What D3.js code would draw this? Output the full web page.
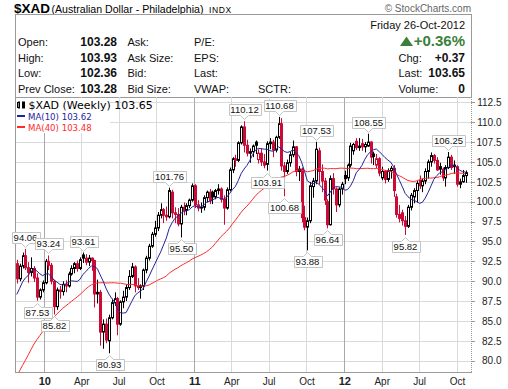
<!DOCTYPE html>
<html>
<head>
<meta charset="utf-8">
<script src="https://cdn.jsdelivr.net/npm/d3@7"></script>
<style>
  body { margin: 0; background: #fff; }
  svg { display: block; font-family: "Liberation Sans", Arial, sans-serif; }
</style>
</head>
<body>
<div id="chart"></div>
<script>
// weekly closes before the first bar, only used to seed the moving averages
const priorCloses = [63.7, 66.0, 66.2, 63.7, 64.0, 63.7, 65.8, 69.3, 69.0, 71.8, 71.7, 71.4, 72.6,
  73.1, 75.6, 74.6, 78.2, 79.8, 79.8, 81.2, 79.9, 80.6, 79.3, 78.4, 81.0, 82.9, 83.6, 84.0, 83.5,
  83.7, 84.3, 85.1, 86.6, 87.8, 86.6, 87.4, 90.6, 92.3, 92.3];

// weekly bars, week of Mon 26-Oct-2009 .. week of Mon 22-Oct-2012
const opens = [92.2, 90.3, 91.9, 93.2, 91.7, 91.1, 91.6, 90.4, 88.0, 88.9, 89.8, 92.5, 92.0, 90.0, 86.8,
  88.9, 88.7, 89.6, 89.4, 90.9, 91.6, 92.2, 91.6, 93.3, 92.9, 92.4, 92.9, 92.6, 88.4, 88.6, 83.6, 84.6,
  82.5, 85.4, 87.3, 87.8, 84.6, 87.4, 88.0, 89.2, 90.6, 91.8, 89.4, 89.2, 89.4, 91.4, 92.9, 94.4, 95.9,
  96.7, 98.3, 99.0, 98.3, 98.1, 101.2, 98.6, 98.4, 97.2, 99.3, 98.9, 99.5, 100.2, 102.0, 99.6, 99.2,
  99.3, 100.5, 101.2, 101.2, 100.6, 101.4, 101.6, 100.3, 99.2, 101.5, 104.0, 105.4, 105.2, 107.4, 109.4,
  107.1, 106.1, 106.3, 107.5, 105.3, 106.1, 105.0, 104.7, 107.3, 107.5, 106.5, 108.1, 109.8, 104.5,
  103.8, 104.9, 105.9, 106.9, 103.8, 104.1, 98.0, 96.8, 97.6, 101.9, 102.6, 106.4, 103.8, 102.6, 100.0,
  97.1, 102.9, 101.6, 99.6, 101.6, 103.3, 103.0, 104.6, 106.4, 107.6, 106.8, 107.3, 106.9, 107.0, 107.5,
  106.0, 104.6, 105.4, 103.0, 103.8, 102.8, 103.9, 104.2, 100.6, 98.4, 98.6, 97.6, 96.9, 99.3, 100.6,
  101.4, 102.7, 102.0, 102.6, 103.8, 105.0, 105.8, 105.2, 104.4, 104.1, 103.0, 104.3, 105.6, 104.6,
  104.4, 102.2, 102.5, 103.28];
const highs = [92.7, 92.2, 93.6, 94.06, 92.4, 93.0, 91.9, 91.0, 89.1, 90.1, 92.8, 93.24, 92.3, 90.2, 89.2,
  89.4, 90.0, 90.1, 91.2, 92.0, 92.4, 92.6, 93.0, 93.61, 93.4, 93.3, 93.0, 92.7, 90.2, 88.9, 85.2, 85.3,
  85.8, 87.8, 88.6, 88.0, 87.6, 88.8, 89.6, 91.4, 92.3, 92.0, 90.4, 89.6, 91.6, 93.2, 94.7, 96.2, 97.6,
  98.7, 99.8, 99.2, 99.4, 101.76, 101.5, 99.3, 99.2, 99.6, 99.9, 99.8, 100.4, 102.3, 102.2, 100.2, 99.9,
  100.8, 101.4, 101.6, 101.4, 101.6, 102.2, 101.8, 100.8, 101.8, 104.3, 105.6, 105.9, 107.6, 109.6,
  110.12, 107.8, 106.7, 107.2, 107.7, 106.6, 106.7, 106.0, 107.6, 108.0, 107.8, 108.3, 110.68, 110.5,
  105.0, 105.3, 106.3, 107.7, 107.0, 104.5, 104.3, 99.5, 98.0, 102.5, 103.0, 107.53, 106.8, 104.7, 103.0,
  100.3, 103.3, 103.6, 101.8, 101.8, 102.5, 103.9, 104.8, 107.4, 107.4, 108.0, 108.0, 107.9, 107.5,
  108.55, 107.6, 106.3, 106.0, 105.6, 104.4, 104.0, 104.2, 104.5, 104.6, 101.0, 99.6, 99.0, 98.2, 99.6,
  101.1, 101.7, 102.6, 103.3, 102.9, 104.2, 105.3, 106.2, 106.0, 105.6, 104.9, 104.3, 104.6, 106.25,
  105.9, 105.2, 104.6, 102.9, 104.0, 103.93];
const lows = [89.7, 90.0, 91.6, 91.4, 89.8, 90.6, 89.9, 87.53, 87.7, 88.6, 89.6, 91.4, 89.6, 85.82, 86.4,
  87.8, 88.2, 88.6, 89.2, 90.7, 91.0, 91.2, 91.4, 92.3, 92.0, 91.9, 91.3, 86.7, 87.2, 81.9, 81.5, 82.2,
  80.93, 85.2, 86.9, 83.2, 84.4, 86.6, 87.5, 88.9, 90.4, 88.6, 88.9, 87.8, 88.9, 91.0, 92.6, 94.2, 95.6,
  96.3, 97.9, 97.3, 97.6, 97.9, 97.9, 97.3, 96.9, 95.5, 98.3, 98.3, 99.2, 100.0, 99.2, 98.8, 98.6, 98.9,
  99.9, 99.7, 99.7, 100.3, 100.9, 99.9, 97.1, 99.0, 101.3, 103.6, 104.4, 105.0, 107.2, 106.2, 105.7,
  104.9, 105.6, 106.0, 104.8, 104.5, 104.2, 103.91, 106.6, 105.6, 106.2, 107.9, 103.9, 100.68, 103.5,
  104.4, 105.6, 103.2, 102.6, 97.4, 96.4, 93.88, 97.3, 100.5, 102.2, 102.2, 101.2, 99.6, 96.64, 97.0,
  100.9, 98.7, 99.3, 100.9, 102.2, 102.6, 104.3, 105.9, 106.5, 106.4, 106.4, 106.2, 106.9, 104.8, 104.6,
  104.2, 103.2, 102.7, 102.3, 102.5, 102.9, 100.6, 98.0, 97.4, 97.0, 95.82, 96.7, 98.9, 99.8, 99.9,
  101.6, 101.2, 102.2, 102.9, 104.4, 104.8, 103.9, 103.4, 102.6, 101.9, 104.1, 104.0, 103.5, 101.9,
  101.7, 102.4, 102.36];
const closes = [90.3, 91.9, 93.2, 91.7, 91.1, 91.6, 90.4, 88.0, 88.9, 89.8, 92.5, 92.0, 90.0, 86.8, 88.9,
  88.7, 89.6, 89.4, 90.9, 91.6, 92.2, 91.6, 92.7, 92.9, 92.4, 92.9, 92.6, 88.4, 88.6, 83.6, 84.6, 82.6,
  85.4, 87.3, 87.8, 84.6, 87.4, 88.0, 89.2, 90.6, 91.8, 89.4, 89.2, 89.4, 91.4, 92.9, 94.4, 95.9, 96.7,
  98.3, 99.0, 98.3, 98.1, 101.4, 98.6, 98.4, 97.2, 99.3, 98.9, 99.5, 100.2, 102.0, 99.6, 99.2, 99.3,
  100.5, 101.2, 100.1, 100.6, 101.4, 101.6, 100.3, 99.2, 101.5, 104.0, 105.4, 105.2, 107.4, 109.4, 107.1,
  106.1, 106.3, 107.0, 107.1, 106.1, 105.0, 104.6, 107.3, 107.5, 106.5, 108.1, 109.8, 104.5, 103.8,
  104.9, 105.9, 106.9, 103.8, 104.1, 98.0, 96.8, 97.6, 102.0, 102.6, 106.6, 103.8, 102.6, 100.2, 97.1,
  102.9, 101.6, 99.6, 101.6, 102.2, 102.9, 104.6, 107.0, 107.2, 106.8, 107.0, 106.9, 107.2, 107.5, 105.6,
  105.7, 105.4, 103.6, 103.8, 102.8, 103.9, 104.2, 101.4, 98.4, 97.9, 97.6, 96.9, 99.3, 100.8, 101.4,
  102.3, 102.0, 102.6, 103.8, 105.0, 105.8, 105.2, 104.0, 104.1, 103.0, 104.3, 105.6, 104.3, 104.4,
  102.2, 102.5, 103.28, 103.65];

const highLabels = [94.06, 93.24, 93.61, 101.76, 110.12, 110.68, 107.53, 108.55, 106.25];
const lowLabels = [87.53, 85.82, 80.93, 95.50, 103.91, 100.68, 93.88, 96.64, 95.82];

const yTicks = [80.0, 82.5, 85.0, 87.5, 90.0, 92.5, 95.0, 97.5, 100.0, 102.5, 105.0, 107.5, 110.0, 112.5];

const legendRows = ["$XAD (Weekly) 103.65", "MA(10) 103.62", "MA(40) 103.48"];
const quoteLeft = [
  ["Open:", "103.28", "Ask:", "P/E:", ""],
  ["High:", "103.93", "Ask Size:", "EPS:", ""],
  ["Low:", "102.36", "Bid:", "Last:", ""],
  ["Prev Close:", "103.28", "Bid Size:", "VWAP:", "SCTR:"]
];
const quoteRight = [["Chg:", "+0.37"], ["Last:", "103.65"], ["Volume:", "0"]];

const W = 508, H = 389;
const plot = { left: 15, right: 471, top: 97, bottom: 372 };

const svg = d3.select("#chart").append("svg")
  .attr("width", W).attr("height", H);

// time and price scales
const x = d3.scaleUtc()
  .domain([new Date(Date.UTC(2009, 9, 21, 17)), new Date(Date.UTC(2012, 10, 4, 7))])
  .range([plot.left, plot.right]);
const y = d3.scaleLinear()
  .domain([78.58, 113.17])
  .range([plot.bottom, plot.top]);

const weeks = d3.utcMonday.range(new Date(Date.UTC(2009, 9, 26)), new Date(Date.UTC(2012, 9, 23)));
const bars = weeks.map((d, i) => ({
  date: d, o: opens[i], h: highs[i], l: lows[i], c: closes[i],
  prev: i === 0 ? priorCloses[priorCloses.length - 1] : closes[i - 1]
}));

// moving averages
const allCloses = priorCloses.concat(closes);
const off = priorCloses.length;
function movingAvg(n) {
  return bars.map((b, i) => ({ date: b.date, v: d3.mean(allCloses.slice(off + i - n + 1, off + i + 1)) }));
}
const ma10 = movingAvg(10);
const ma40 = movingAvg(40);

// ---- header ----
svg.append("text").attr("x", 14).attr("y", 13)
  .attr("font-size", 13.5).attr("font-weight", "bold").text("$XAD");
svg.append("text").attr("x", 51.5).attr("y", 13)
  .attr("font-size", 10.6).text("(Australian Dollar - Philadelphia)");
svg.append("text").attr("x", 209).attr("y", 13)
  .attr("font-size", 8.5).attr("letter-spacing", 0.6).text("INDX");
svg.append("text").attr("x", 471).attr("y", 12).attr("text-anchor", "end")
  .attr("font-size", 10).attr("fill", "#666").text("\u00a9 StockCharts.com");

svg.append("rect")
  .attr("x", 15.5).attr("y", 14.5).attr("width", plot.right - 15).attr("height", plot.top - 14)
  .attr("fill", "#fff").attr("stroke", "#9a9a9a");

const rowY = [45.5, 61.5, 77, 92.5];
const q = svg.append("g").attr("font-size", 11).attr("fill", "#111");
quoteLeft.forEach((r, i) => {
  q.append("text").attr("x", 18).attr("y", rowY[i]).text(r[0]);
  q.append("text").attr("x", 117).attr("y", rowY[i]).attr("text-anchor", "end")
    .attr("font-weight", "bold").attr("font-size", 12).text(r[1]);
  q.append("text").attr("x", 127.5).attr("y", rowY[i]).text(r[2]);
  q.append("text").attr("x", 194).attr("y", rowY[i]).text(r[3]);
  if (r[4]) q.append("text").attr("x", 258).attr("y", rowY[i]).text(r[4]);
});
q.append("text").attr("x", 465).attr("y", 28.5).attr("text-anchor", "end").text("Friday  26-Oct-2012");
quoteRight.forEach((r, i) => {
  q.append("text").attr("x", 398.5).attr("y", rowY[i + 1]).text(r[0]);
  q.append("text").attr("x", 465).attr("y", rowY[i + 1]).attr("text-anchor", "end")
    .attr("font-weight", "bold").attr("font-size", 12).text(r[1]);
});
const green = "#3b7f3b";
q.append("text").attr("x", 465).attr("y", rowY[0]).attr("text-anchor", "end")
  .attr("font-weight", "bold").attr("font-size", 15).attr("fill", green).text("+0.36%");
q.append("path").attr("d", "M400,46 L406.5,36.5 L413,46 Z").attr("fill", green);

// ---- plot area ----
const quarters = d3.utcMonth.every(3).range(x.domain()[0], x.domain()[1]);

const grid = svg.append("g");
grid.selectAll(".hg").data(yTicks).join("line")
  .attr("x1", plot.left).attr("x2", plot.right)
  .attr("y1", d => Math.round(y(d)) + 0.5).attr("y2", d => Math.round(y(d)) + 0.5)
  .attr("stroke", "#dadada");
grid.selectAll(".vg").data(quarters).join("line")
  .attr("x1", d => Math.round(x(d)) + 0.5).attr("x2", d => Math.round(x(d)) + 0.5)
  .attr("y1", plot.top).attr("y2", plot.bottom)
  .attr("stroke", d => d.getUTCMonth() === 0 ? "#a9a9a9" : "#dadada");

svg.append("line").attr("x1", plot.left + 0.5).attr("x2", plot.left + 0.5)
  .attr("y1", plot.top).attr("y2", plot.bottom).attr("stroke", "#9a9a9a");
svg.append("line").attr("x1", plot.left).attr("x2", plot.right + 1)
  .attr("y1", plot.bottom + 0.5).attr("y2", plot.bottom + 0.5).attr("stroke", "#9a9a9a");

svg.append("clipPath").attr("id", "clip").append("rect")
  .attr("x", plot.left + 1).attr("y", plot.top + 1)
  .attr("width", plot.right - plot.left - 1).attr("height", plot.bottom - plot.top - 1);

const red = "#cc0a36";
const candles = svg.append("g").attr("clip-path", "url(#clip)")
  .selectAll("g").data(bars).join("g")
  .attr("transform", d => `translate(${Math.round(x(d.date))},0)`);
candles.append("line")
  .attr("x1", 0.5).attr("x2", 0.5)
  .attr("y1", d => y(d.h)).attr("y2", d => y(d.l))
  .attr("stroke", d => d.c >= d.prev ? "#000" : red);
candles.append("rect")
  .attr("x", -0.5).attr("width", 2)
  .attr("y", d => y(Math.max(d.o, d.c)))
  .attr("height", d => Math.max(0.8, Math.abs(y(d.o) - y(d.c))))
  .attr("fill", d => d.c >= d.o ? "#fff" : (d.c >= d.prev ? "#000" : red))
  .attr("stroke", d => d.c >= d.prev ? "#000" : red)
  .attr("stroke-width", 1);

const line = d3.line().x(d => x(d.date)).y(d => y(d.v));
const maG = svg.append("g").attr("clip-path", "url(#clip)").attr("fill", "none");
maG.append("path").datum(ma40).attr("d", line).attr("stroke", "#ff2a2a").attr("stroke-width", 1);
maG.append("path").datum(ma10).attr("d", line).attr("stroke", "#23239a").attr("stroke-width", 1);

// ---- high / low call-outs ----
function callout(i, value, isHigh) {
  const cx = Math.round(x(bars[i].date)) + 0.5;
  const tip = isHigh ? y(value) - 2 : y(value) + 2;
  const g = svg.append("g");
  const t = g.append("text").attr("font-size", 9.5).attr("fill", "#111")
    .attr("text-anchor", "middle").attr("x", cx).text(value.toFixed(2));
  const tw = t.node().getComputedTextLength();
  const w = Math.round(tw + 4), h = 11, n = 4;
  const bx = Math.round(cx - w / 2) + 0.5;
  let d;
  if (isHigh) {
    const by = Math.round(tip - n - h) + 0.5;
    d = `M${bx},${by}h${w}v${h}H${cx + n}L${cx},${by + h + n}L${cx - n},${by + h}H${bx}Z`;
    t.attr("y", by + 8.8);
  } else {
    const by = Math.round(tip + n) + 0.5;
    d = `M${bx},${by}H${cx - n}L${cx},${by - n}L${cx + n},${by}H${bx + w}v${h}H${bx}Z`;
    t.attr("y", by + 8.8);
  }
  g.insert("path", "text").attr("d", d).attr("fill", "#fff").attr("stroke", "#c4c4c4");
}
highLabels.forEach(v => callout(highs.indexOf(v), v, true));
lowLabels.forEach(v => callout(lows.indexOf(v), v, false));

// ---- legend ----
const lg = svg.append("g");
lg.append("rect").attr("x", plot.left + 1).attr("y", plot.top + 1)
  .attr("width", 140).attr("height", 35).attr("fill", "#fff");
lg.append("rect").attr("x", 17.5).attr("y", 102.5).attr("width", 2).attr("height", 5)
  .attr("fill", "#fff").attr("stroke", "#000");
lg.append("line").attr("x1", 19).attr("x2", 19).attr("y1", 101).attr("y2", 109).attr("stroke", "#000");
lg.append("rect").attr("x", 22).attr("y", 101.5).attr("width", 3).attr("height", 7).attr("fill", "#000");
lg.append("text").attr("x", 28.5).attr("y", 108.5).attr("font-family", "DejaVu Sans")
  .attr("font-size", 11).text(legendRows[0]);
[["#23239a", 119.5], ["#ff2a2a", 130.5]].forEach((s, i) => {
  lg.append("line").attr("x1", 17).attr("x2", 25).attr("y1", s[1] - 3.5).attr("y2", s[1] - 3.5)
    .attr("stroke", s[0]).attr("stroke-width", 2);
  lg.append("text").attr("x", 28).attr("y", s[1]).attr("font-family", "DejaVu Sans")
    .attr("font-size", 8.6).attr("fill", s[0]).text(legendRows[i + 1]);
});
// clear the box behind the legend only where text lives
lg.select("rect").attr("width", 94);

// ---- axes ----
const yAxis = svg.append("g");
yAxis.append("line").attr("x1", plot.right + 0.5).attr("x2", plot.right + 0.5)
  .attr("y1", plot.top).attr("y2", plot.bottom + 1)
  .attr("stroke", "#9a9a9a").attr("stroke-dasharray", "1,1");
yAxis.selectAll(".yt").data(yTicks).join("line")
  .attr("x1", plot.right).attr("x2", plot.right + 4)
  .attr("y1", d => Math.round(y(d)) + 0.5).attr("y2", d => Math.round(y(d)) + 0.5)
  .attr("stroke", "#9a9a9a");
yAxis.selectAll(".yl").data(yTicks).join("text")
  .attr("x", 501.5).attr("y", d => y(d) + 3.7).attr("text-anchor", "end")
  .attr("font-size", 10).attr("fill", "#222").text(d => d.toFixed(1));

const xAxis = svg.append("g");
xAxis.selectAll("text").data(quarters).join("text")
  .attr("x", d => x(d) + 0.5).attr("y", 384.5).attr("text-anchor", "middle")
  .attr("font-size", d => d.getUTCMonth() === 0 ? 11 : 10)
  .attr("font-weight", d => d.getUTCMonth() === 0 ? "bold" : "normal")
  .attr("fill", "#222")
  .text(d => d.getUTCMonth() === 0 ? d3.utcFormat("%y")(d) : d3.utcFormat("%b")(d));
</script>
</body>
</html>
